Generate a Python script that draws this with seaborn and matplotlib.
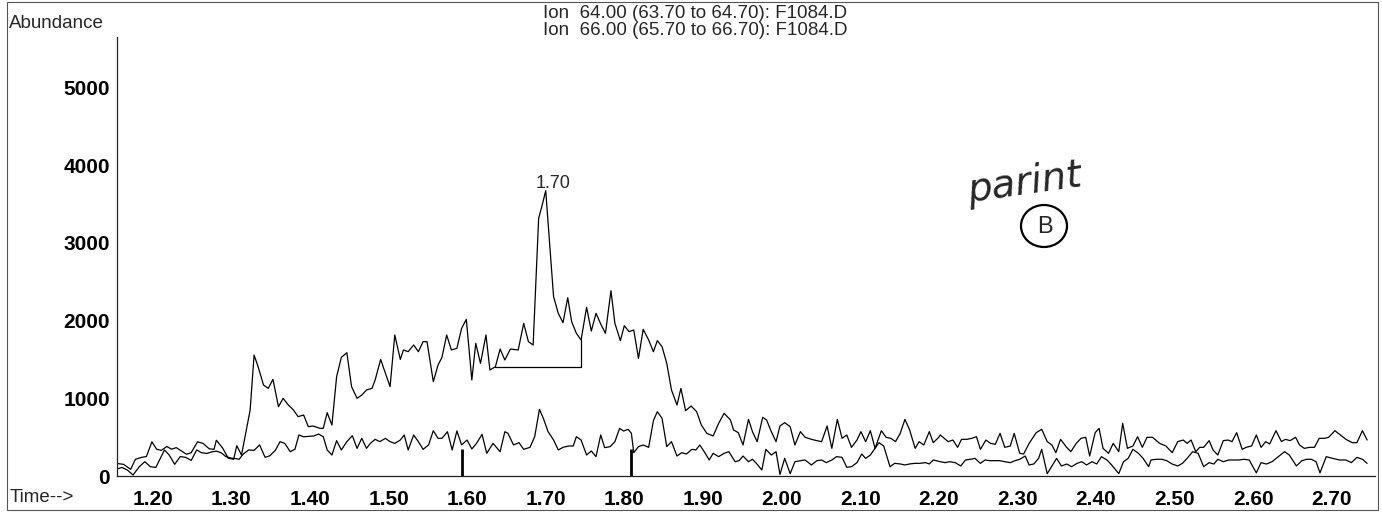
import numpy as np
import pandas as pd
import matplotlib
matplotlib.use("Agg")
import matplotlib.pyplot as plt
import seaborn as sns
from matplotlib.patches import Ellipse, Rectangle
from matplotlib.ticker import MultipleLocator, FixedLocator

# ---- extracted ion chromatograms (time in min, abundance in counts) ----
ion64_time = [
    1.153, 1.163, 1.172, 1.178, 1.186, 1.192, 1.199, 1.205, 1.211, 1.218,
    1.224, 1.230, 1.237, 1.243, 1.249, 1.257, 1.264, 1.272, 1.278, 1.281,
    1.289, 1.296, 1.303, 1.307, 1.313, 1.320, 1.324, 1.329, 1.334, 1.341,
    1.347, 1.353, 1.360, 1.366, 1.372, 1.379, 1.385, 1.392, 1.398, 1.404,
    1.413,
    1.417, 1.422, 1.428, 1.434, 1.440, 1.447, 1.453, 1.460, 1.466, 1.472,
    1.479, 1.483, 1.490, 1.502, 1.508, 1.515, 1.519, 1.525, 1.532, 1.538,
    1.544, 1.549, 1.557, 1.563, 1.568, 1.574, 1.580, 1.587, 1.593, 1.599,
    1.606, 1.611, 1.617, 1.624, 1.629, 1.636, 1.642, 1.648, 1.655, 1.665,
    1.672,
    1.678, 1.684, 1.691, 1.695, 1.700, 1.710, 1.716, 1.722, 1.728, 1.733,
    1.739, 1.745, 1.752, 1.758, 1.764, 1.770, 1.776, 1.783, 1.788, 1.795,
    1.800, 1.806, 1.812, 1.818, 1.824, 1.831, 1.837, 1.842, 1.848, 1.854,
    1.860, 1.867, 1.872, 1.878, 1.885, 1.892, 1.898, 1.905, 1.913, 1.920,
    1.927,
    1.935, 1.939, 1.945, 1.951, 1.958, 1.963, 1.969, 1.976, 1.981, 1.987,
    1.993, 1.998, 2.004, 2.011, 2.017, 2.024, 2.030, 2.038, 2.045, 2.051,
    2.058, 2.064, 2.071, 2.077, 2.083, 2.089, 2.096, 2.101, 2.107, 2.113,
    2.119, 2.127, 2.133, 2.139, 2.145, 2.151, 2.157, 2.163, 2.170, 2.175,
    2.181, 2.188, 2.193, 2.200,
    2.202, 2.207, 2.212, 2.218, 2.224, 2.229, 2.236, 2.242, 2.248, 2.253,
    2.260, 2.266, 2.272, 2.278, 2.284, 2.291, 2.296, 2.303, 2.308, 2.315,
    2.324, 2.331, 2.338, 2.344, 2.349, 2.355, 2.362, 2.368, 2.375, 2.381,
    2.387, 2.392, 2.399, 2.404, 2.409, 2.416, 2.422, 2.429, 2.434, 2.440,
    2.447, 2.453, 2.459, 2.465,
    2.472, 2.481, 2.489, 2.497, 2.504, 2.511, 2.516, 2.521, 2.527, 2.532,
    2.537, 2.544, 2.549, 2.555, 2.562, 2.568, 2.573, 2.579, 2.586, 2.591,
    2.598, 2.604, 2.610, 2.616, 2.621, 2.629, 2.636, 2.641, 2.647, 2.654,
    2.659, 2.665, 2.672, 2.678, 2.684, 2.691, 2.696, 2.704, 2.711, 2.718,
    2.726, 2.732, 2.739, 2.745,
]
ion64_abund = [
    163, 150, 86, 215, 240, 250, 440, 345, 330, 380,
    345, 365, 320, 280, 300, 440, 420, 350, 343, 460,
    360, 230, 215, 390, 270, 635, 850, 1557, 1410, 1171,
    1128, 1244, 892, 1000, 920, 850, 764, 785, 635, 643,
    613,
    613, 815, 656, 1278, 1527, 1587, 1150, 1000, 1042, 1107,
    1128, 1236, 1500, 1150, 1815, 1500, 1622, 1600, 1686, 1600,
    1729, 1729, 1214, 1428, 1527, 1815, 1622, 1643, 1900, 2016,
    1236, 1708, 1450, 1815, 1364, 1407, 1634, 1493, 1634, 1622,
    1965,
    1729, 1686, 3316, 3466, 3672, 2308, 2094, 1973, 2295, 1986,
    1836, 1750, 2171, 1866, 2094, 1956, 1836, 2385, 1965, 1742,
    1935, 1858, 1879, 1514, 1888, 1750, 1600, 1742, 1665, 1450,
    1107, 914, 1128, 841, 901, 828, 656, 549, 515, 678,
    807,
    721, 592, 558, 399, 729, 571, 442, 755, 721, 571,
    442, 644, 686, 635, 399, 571, 498, 472, 455, 442,
    644, 356, 729, 485, 528, 369, 463, 571, 442, 583,
    356, 583, 498, 485, 442, 549, 729, 592, 356, 442,
    399, 571, 429, 498,
    528, 485, 442, 463, 369, 472, 472, 485, 506, 343,
    463, 420, 408, 549, 369, 386, 549, 292, 283, 420,
    558, 601, 442, 399, 300, 472, 378, 313, 420, 485,
    498, 257, 558, 613, 356, 292, 420, 313, 678, 356,
    386, 506, 369, 498,
    498, 420, 386, 300, 442, 463, 420, 463, 313, 369,
    369, 455, 335, 270, 455, 463, 442, 558, 343, 369,
    386, 528, 369, 442, 412, 583, 442, 472, 455, 498,
    399, 356, 369, 369, 485, 485, 498, 583, 528, 472,
    429, 429, 583, 463,
]

ion66_time = [
    1.153, 1.161, 1.168, 1.175, 1.183, 1.190, 1.197, 1.204, 1.215, 1.221,
    1.228, 1.235, 1.242, 1.249, 1.256, 1.262, 1.269, 1.275, 1.281, 1.287,
    1.293, 1.300, 1.305, 1.310, 1.315, 1.322, 1.329, 1.336, 1.343, 1.349,
    1.356, 1.362, 1.368, 1.375, 1.381, 1.386, 1.392, 1.399, 1.405, 1.411,
    1.417, 1.422, 1.428, 1.434, 1.440, 1.447, 1.454, 1.460, 1.466, 1.472,
    1.477, 1.483, 1.489, 1.496, 1.502, 1.508, 1.515, 1.520, 1.525, 1.532,
    1.538, 1.544, 1.551, 1.557, 1.563, 1.568, 1.575, 1.581, 1.587, 1.593,
    1.600, 1.606, 1.612, 1.619, 1.625, 1.633, 1.642, 1.648, 1.652, 1.659,
    1.666, 1.672,
    1.680, 1.686, 1.692, 1.697, 1.703, 1.710, 1.716, 1.722, 1.729, 1.735,
    1.739, 1.745, 1.752, 1.758, 1.764, 1.770, 1.775, 1.782, 1.788, 1.794,
    1.799, 1.805, 1.809, 1.812, 1.818, 1.824, 1.831, 1.837, 1.842, 1.848,
    1.854, 1.860, 1.867, 1.873, 1.879, 1.886, 1.891, 1.896, 1.903, 1.908,
    1.913, 1.920, 1.927, 1.933,
    1.941, 1.946, 1.951, 1.958, 1.963, 1.968, 1.975, 1.980, 1.987, 1.993,
    1.998, 2.004, 2.011, 2.017, 2.024, 2.030, 2.038, 2.045, 2.051, 2.057,
    2.064, 2.070, 2.077, 2.083, 2.089, 2.096, 2.102, 2.107, 2.113, 2.119,
    2.124, 2.130, 2.138, 2.144, 2.151, 2.157, 2.163, 2.170, 2.176, 2.183,
    2.188, 2.193,
    2.202, 2.208, 2.214, 2.221, 2.228, 2.234, 2.240, 2.246, 2.253, 2.259,
    2.265, 2.272, 2.278, 2.284, 2.291, 2.297, 2.303, 2.310, 2.315, 2.321,
    2.327, 2.331, 2.338, 2.344, 2.350, 2.356, 2.363, 2.369, 2.376, 2.382,
    2.388, 2.395, 2.401, 2.407, 2.414, 2.420, 2.429, 2.435, 2.441, 2.447,
    2.454, 2.460, 2.467,
    2.470, 2.477, 2.484, 2.490, 2.497, 2.504, 2.510, 2.516, 2.523, 2.530,
    2.537, 2.544, 2.550, 2.555, 2.562, 2.569, 2.575, 2.582, 2.588, 2.595,
    2.604, 2.610, 2.617, 2.624, 2.631, 2.640, 2.646, 2.655, 2.662, 2.668,
    2.674, 2.680, 2.685, 2.693, 2.701, 2.710, 2.718, 2.725, 2.732, 2.739,
    2.745,
]
ion66_abund = [
    86, 110, 75, 13, 120, 184, 120, 110, 335, 270,
    150, 250, 240, 200, 335, 300, 290, 310, 320, 300,
    250, 230, 225, 215, 280, 335, 330, 400, 240, 260,
    330, 442, 420, 313, 345, 528, 505, 510, 515, 540,
    506, 335, 270, 455, 335, 442, 519, 356, 485, 356,
    420, 472, 442, 485, 442, 420, 463, 528, 335, 528,
    442, 343, 400, 583, 485, 485, 570, 335, 580, 400,
    463, 348, 420, 536, 292, 420, 313, 570, 549, 400,
    429, 343,
    369, 506, 858, 742, 571, 463, 335, 369, 386, 386,
    506, 463, 270, 322, 249, 528, 365, 378, 442, 613,
    579, 600, 549, 300, 378, 399, 369, 712, 828, 742,
    378, 442, 257, 300, 283, 343, 335, 399, 292, 206,
    292, 249, 292, 313,
    184, 197, 257, 184, 215, 163, 77, 343, 270, 313,
    20, 227, 30, 184, 197, 206, 142, 197, 206, 172,
    206, 249, 240, 112, 120, 172, 283, 227, 270, 356,
    429, 386, 120, 163, 155, 142, 155, 163, 163, 172,
    155, 206,
    184, 172, 184, 172, 129, 206, 215, 227, 163, 206,
    197, 197, 197, 184, 172, 197, 215, 257, 142, 155,
    227, 343, 30, 129, 227, 129, 154, 120, 163, 184,
    142, 184, 155, 249, 206, 142, 30, 184, 227, 343,
    292, 227, 120,
    206, 215, 215, 197, 154, 129, 163, 227, 313, 292,
    120, 172, 154, 215, 184, 206, 206, 206, 215, 206,
    40, 172, 154, 184, 240, 313, 270, 129, 197, 215,
    215, 184, 40, 249, 227, 206, 206, 172, 240, 215,
    163,
]

trace_titles = [
    "Ion  64.00 (63.70 to 64.70): F1084.D",
    "Ion  66.00 (65.70 to 66.70): F1084.D",
]

# integration events and the drawn baseline under the 1.70 peak
event_times = [1.593, 1.809]
event_heights = [350, 350]
baseline_start = 1.636
baseline_end = 1.745

x_ticks = [1.20, 1.30, 1.40, 1.50, 1.60, 1.70, 1.80, 1.90, 2.00, 2.10,
           2.20, 2.30, 2.40, 2.50, 2.60, 2.70]
y_ticks = [0, 1000, 2000, 3000, 4000, 5000]

# ---- assemble long-form table ----
df = pd.concat([
    pd.DataFrame({"time": ion64_time, "abundance": ion64_abund, "trace": trace_titles[0]}),
    pd.DataFrame({"time": ion66_time, "abundance": ion66_abund, "trace": trace_titles[1]}),
], ignore_index=True)

sns.set_style("white")
plt.rcParams["font.family"] = ["Liberation Sans", "DejaVu Sans"]

W, H = 1382, 513
fig = plt.figure(figsize=(W / 100, H / 100), dpi=100)
ax = fig.add_axes([117 / W, 37 / H, (1375 - 117) / W, (476 - 37) / H])

sns.lineplot(data=df, x="time", y="abundance", hue="trace", estimator=None,
             palette=["black", "black"], linewidth=0.9, legend=False, ax=ax)

# integration baseline (horizontal, then up to the trace)
t64 = np.array(ion64_time)
a64 = np.array(ion64_abund)
b0 = np.interp(baseline_start, t64, a64)
b1 = np.interp(baseline_end, t64, a64)
ax.plot([baseline_start, baseline_end, baseline_end], [b0, b0, b1],
        color="black", linewidth=0.9)

# event markers
ax.vlines(event_times, 0, event_heights, color="black", linewidth=2.0)

# apex label
ipk = int(np.argmax(a64))
ax.text(t64[ipk] + 0.009, a64[ipk] + 90, f"{t64[ipk]:.2f}",
        ha="center", va="center", fontsize=13)

ax.set_xlim(1.1546, 2.755)
ax.set_ylim(0, 5650)
ax.set_xlabel("")
ax.set_ylabel("")

for side in ("top", "right"):
    ax.spines[side].set_visible(False)
for side in ("left", "bottom"):
    ax.spines[side].set_color("#222222")
    ax.spines[side].set_linewidth(0.9)

ax.xaxis.set_major_locator(FixedLocator(x_ticks))
ax.set_xticklabels([f"{v:.2f}" for v in x_ticks])
ax.xaxis.set_minor_locator(MultipleLocator(0.02))
ax.yaxis.set_major_locator(FixedLocator(y_ticks))
ax.set_yticklabels([str(v) for v in y_ticks])
ax.yaxis.set_minor_locator(MultipleLocator(200))

ax.tick_params(axis="x", which="major", direction="out", length=7, width=1,
               pad=3, labelsize=15, colors="black")
ax.tick_params(axis="x", which="minor", direction="out", length=3.5, width=0.8)
ax.tick_params(axis="y", which="major", direction="out", length=3, width=1,
               pad=2, labelsize=15, colors="black")
ax.tick_params(axis="y", which="minor", direction="out", length=1.5, width=0.6)
for lab in ax.get_xticklabels() + ax.get_yticklabels():
    lab.set_fontweight("bold")

# header texts
fig.text(9 / W, 1 - 24 / H, "Abundance", ha="left", va="center", fontsize=13.5)
fig.text(543 / W, 1 - 13 / H, trace_titles[0], ha="left", va="center", fontsize=13.5)
fig.text(543 / W, 1 - 30.5 / H, trace_titles[1], ha="left", va="center", fontsize=13.5)
fig.text(10 / W, 1 - 497 / H, "Time-->", ha="left", va="center", fontsize=13.5)

# handwritten note
fig.text(1024 / W, 1 - 183 / H, "parint", ha="center", va="center",
         fontsize=28, fontstyle="italic", rotation=8, family="DejaVu Sans",
         fontweight="light")
fig.add_artist(Ellipse((1044 / W, 1 - 226 / H), 46 / W, 42 / H,
                       transform=fig.transFigure, fill=False, lw=1.6,
                       edgecolor="black"))
fig.text(1045 / W, 1 - 227 / H, "B", ha="center", va="center", fontsize=17)

# page frame
fig.add_artist(Rectangle((7 / W, 3 / H), (1378 - 7) / W, (511 - 3) / H,
                         transform=fig.transFigure, fill=False, lw=0.8,
                         edgecolor="#555555"))

fig.savefig("out.png", dpi=100)
